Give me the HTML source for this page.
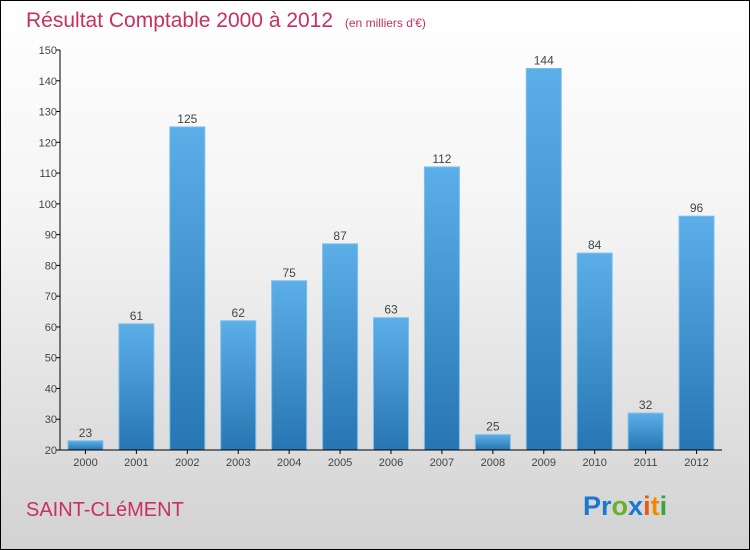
<!DOCTYPE html>
<html><head><meta charset="utf-8"><style>
body{margin:0}
#c{position:relative;width:748px;height:548px;border:1px solid #000;background:linear-gradient(#ffffff 0%,#f4f4f4 40%,#d2d2d2 100%);font-family:"Liberation Sans",sans-serif;overflow:hidden}
</style></head><body>
<div id="c">
<svg width="748" height="548" id="svg">
<defs><linearGradient id="g" x1="0" y1="0" x2="0" y2="1"><stop offset="0" stop-color="#5caee8"/><stop offset="1" stop-color="#2776b3"/></linearGradient></defs>
<text x="25" y="26" font-size="21" fill="#c8305f">Résultat Comptable 2000 à 2012 <tspan font-size="12" dx="6">(en milliers d'€)</tspan></text>
<text x="25" y="515" font-size="20" fill="#c8305f">SAINT-CLéMENT</text>
<text x="582" y="514" font-size="27" font-weight="bold"><tspan fill="#1a78d0">Pr</tspan><tspan fill="#6ab02c">o</tspan><tspan fill="#1a78d0">x</tspan><tspan fill="#e85a14">i</tspan><tspan fill="#f08a00">t</tspan><tspan fill="#3aa33a">i</tspan></text>
<g id="plot"></g>
</svg></div>
<script>
const years=["2000","2001","2002","2003","2004","2005","2006","2007","2008","2009","2010","2011","2012"];
const values=[23,61,125,62,75,87,63,112,25,144,84,32,96];
const ticks=[20,30,40,50,60,70,80,90,100,110,120,130,140,150];
const ns="http://www.w3.org/2000/svg";
const g=document.getElementById('plot');
const X0=59,X1=721,Y0=449,Y1=49,vmin=20,vmax=150;
const y=v=>Y0-(v-vmin)/(vmax-vmin)*(Y0-Y1);
const band=(X1-X0)/years.length;
const xc=i=>X0+band*(i+0.5);
function mk(t,a){const e=document.createElementNS(ns,t);for(const k in a)e.setAttribute(k,a[k]);g.appendChild(e);return e;}
values.forEach((v,i)=>{
 const r=mk('rect',{x:xc(i)-17.5,y:y(v),width:35,height:Y0-y(v),fill:'url(#g)',stroke:'#7cc0ee','stroke-width':1});
 
 
 const t=mk('text',{x:xc(i),y:y(v)-4,'font-size':12,'text-anchor':'middle',fill:'#444'});t.textContent=v;
 
 
 const xl=mk('text',{x:xc(i),y:Y0+16,'font-size':11,'text-anchor':'middle',fill:'#444'});xl.textContent=years[i];
 
 
 mk('line',{x1:xc(i),x2:xc(i),y1:Y0,y2:Y0+4,stroke:'#000'});
});
ticks.forEach(v=>{
 mk('line',{x1:X0-4,x2:X0,y1:y(v),y2:y(v),stroke:'#000'});
 const t=mk('text',{x:X0-3,y:y(v)+4,'font-size':11,'text-anchor':'end',fill:'#444'});t.textContent=v;
 
 
});
const ya=mk('line',{x1:X0,x2:X0,y1:Y1,y2:Y0,stroke:'#000'});


const xa=mk('line',{x1:X0,x2:X1,y1:Y0,y2:Y0,stroke:'#000'});


</script>
</body></html>
